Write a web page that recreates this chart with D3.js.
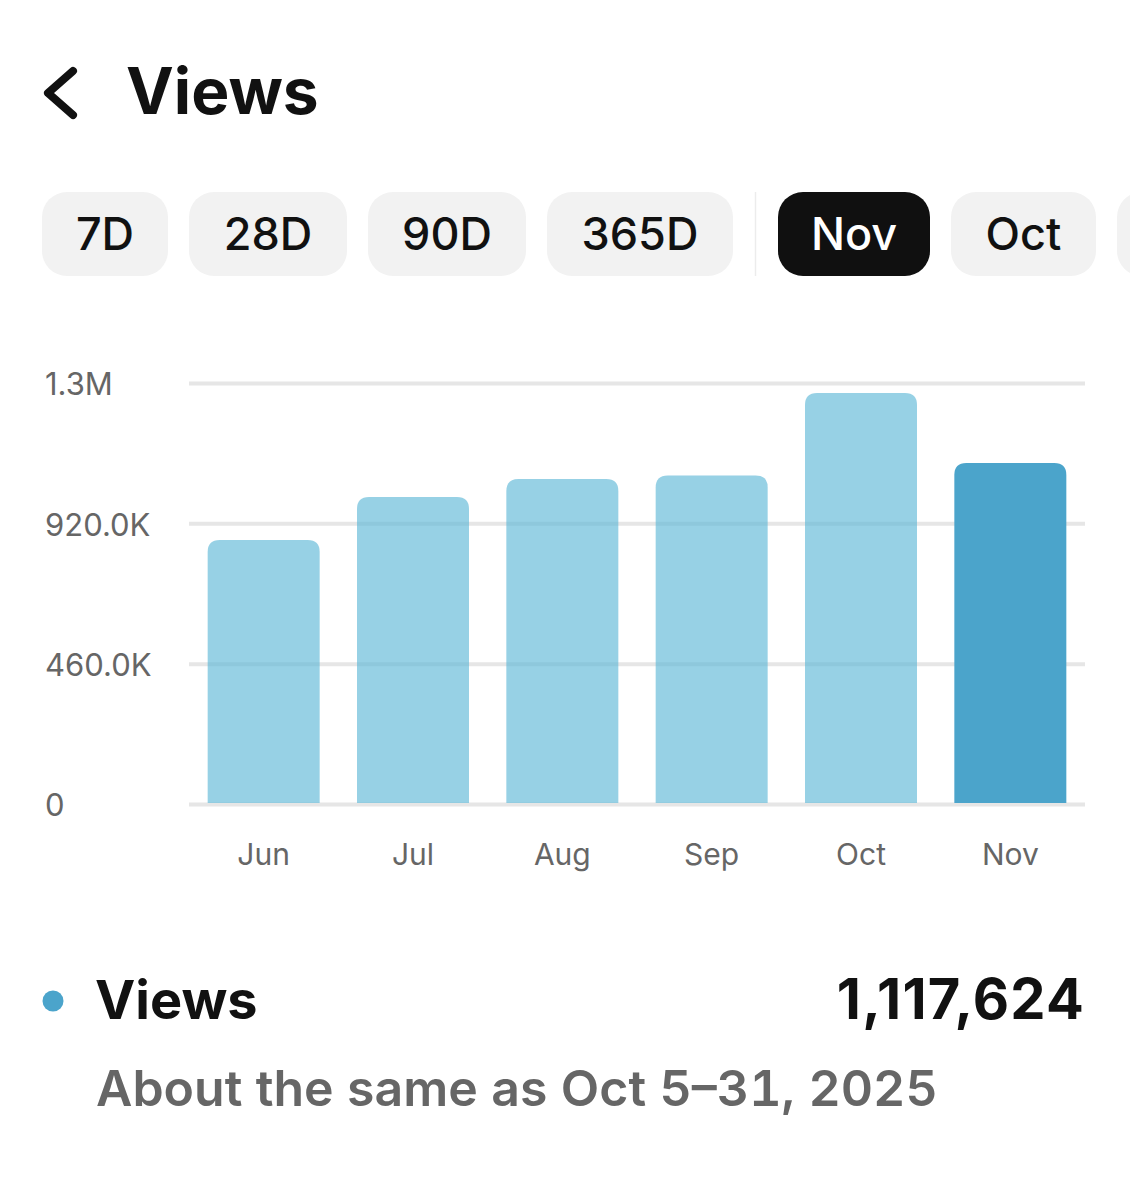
<!DOCTYPE html>
<html>
<head>
<meta charset="utf-8">
<title>Views</title>
<script src="https://cdn.jsdelivr.net/npm/d3@7"></script>
<style>
  html, body { margin: 0; padding: 0; background: #fff; }
  svg { display: block; font-family: Inter, "Noto Sans", sans-serif; }
  .tnum { font-feature-settings: "tnum"; }
</style>
</head>
<body>
<div id="chart"></div>
<script>
const months = ["Jun", "Jul", "Aug", "Sep", "Oct", "Nov"];
const views = [865000, 1006000, 1065000, 1077000, 1347000, 1117624];
const tickValues = [0, 460000, 920000, 1380000];
const tickLabels = ["0", "460.0K", "920.0K", "1.3M"];
const rangeChips = ["7D", "28D", "90D", "365D"];
const monthChips = ["Nov", "Oct", ""];

const svg = d3.select("#chart")
  .append("svg")
  .attr("width", 1130)
  .attr("height", 1200);

// header
svg.append("path")
  .attr("d", d3.line()([[73, 71], [48, 93], [73, 115]]))
  .attr("fill", "none")
  .attr("stroke", "#111")
  .attr("stroke-width", 8)
  .attr("stroke-linecap", "round")
  .attr("stroke-linejoin", "round");

svg.append("text")
  .attr("x", 126)
  .attr("y", 114)
  .attr("font-size", 64)
  .attr("font-weight", 700)
  .attr("fill", "#111")
  .text("Views");

// filter chips
const chipWidths = { "7D": 126, "28D": 158, "90D": 158, "365D": 186, "Nov": 152, "Oct": 145, "": 60 };

function drawChips(labels, startX) {
  let x = startX;
  labels.forEach(label => {
    const w = chipWidths[label];
    const active = label === "Nov";
    svg.append("rect")
      .attr("x", x)
      .attr("y", 192)
      .attr("width", w)
      .attr("height", 84)
      .attr("rx", 25)
      .attr("fill", active ? "#101010" : "#f2f2f2");
    svg.append("text")
      .attr("x", x + w / 2)
      .attr("y", 250)
      .attr("text-anchor", "middle")
      .attr("font-size", 45)
      .attr("font-weight", 500)
      .attr("fill", active ? "#fff" : "#111")
      .text(label);
    x += w + 21;
  });
}

drawChips(rangeChips, 42);
drawChips(monthChips, 778);

svg.append("line")
  .attr("x1", 755.5)
  .attr("x2", 755.5)
  .attr("y1", 192)
  .attr("y2", 276)
  .attr("stroke", "#ececec")
  .attr("stroke-width", 1.5);

// chart
const x = d3.scaleBand()
  .domain(months)
  .range([189, 1085])
  .paddingInner(0.25)
  .paddingOuter(0.125);

const y = d3.scaleLinear()
  .domain([0, 1380000])
  .range([804, 383]);

const yAxis = svg.append("g")
  .attr("transform", "translate(189, 0)")
  .call(d3.axisLeft(y)
    .tickValues(tickValues)
    .tickFormat((d, i) => tickLabels[i])
    .tickSize(-896)
    .tickPadding(0));

yAxis.select(".domain").remove();
yAxis.selectAll(".tick line")
  .attr("stroke", "#e6e6e6")
  .attr("stroke-width", 4);
yAxis.selectAll(".tick text")
  .attr("x", -144)
  .attr("dy", "0.38em")
  .attr("text-anchor", "start")
  .attr("font-family", "Inter, sans-serif")
  .attr("font-size", 31)
  .attr("fill", "#666");

function barPath(d, i) {
  const left = x(months[i]);
  const right = left + x.bandwidth();
  const top = y(d);
  const bottom = y(0) - 1;
  const r = 12;
  return `M${left},${bottom}V${top + r}Q${left},${top} ${left + r},${top}` +
    `H${right - r}Q${right},${top} ${right},${top + r}V${bottom}Z`;
}

svg.append("g")
  .selectAll("path")
  .data(views)
  .join("path")
  .attr("d", barPath)
  .attr("fill", (d, i) => months[i] === "Nov" ? "#4ba4cb" : "#5bb6d6")
  .attr("fill-opacity", (d, i) => months[i] === "Nov" ? 1 : 0.63);

const xAxis = svg.append("g")
  .attr("transform", "translate(0, 804)")
  .call(d3.axisBottom(x).tickSize(0).tickPadding(40));

xAxis.select(".domain").remove();
xAxis.selectAll(".tick text")
  .attr("font-family", "Inter, sans-serif")
  .attr("font-size", 30)
  .attr("fill", "#666");

// summary
svg.append("circle")
  .attr("cx", 53)
  .attr("cy", 1001)
  .attr("r", 10.5)
  .attr("fill", "#4ba4cb");

svg.append("text")
  .attr("x", 95)
  .attr("y", 1019)
  .attr("font-size", 54)
  .attr("font-weight", 700)
  .attr("fill", "#111")
  .text("Views");

svg.append("text")
  .attr("x", 1085)
  .attr("y", 1019)
  .attr("text-anchor", "end")
  .attr("font-size", 56)
  .attr("font-weight", 700)
  .attr("letter-spacing", 1.2)
  .attr("fill", "#111")
  .text(d3.format(",")(views[views.length - 1]));

svg.append("text")
  .attr("class", "tnum")
  .attr("x", 96)
  .attr("y", 1106)
  .attr("font-size", 50)
  .attr("font-weight", 600)
  .attr("fill", "#666")
  .text("About the same as Oct 5–31, 2025");
</script>
</body>
</html>
